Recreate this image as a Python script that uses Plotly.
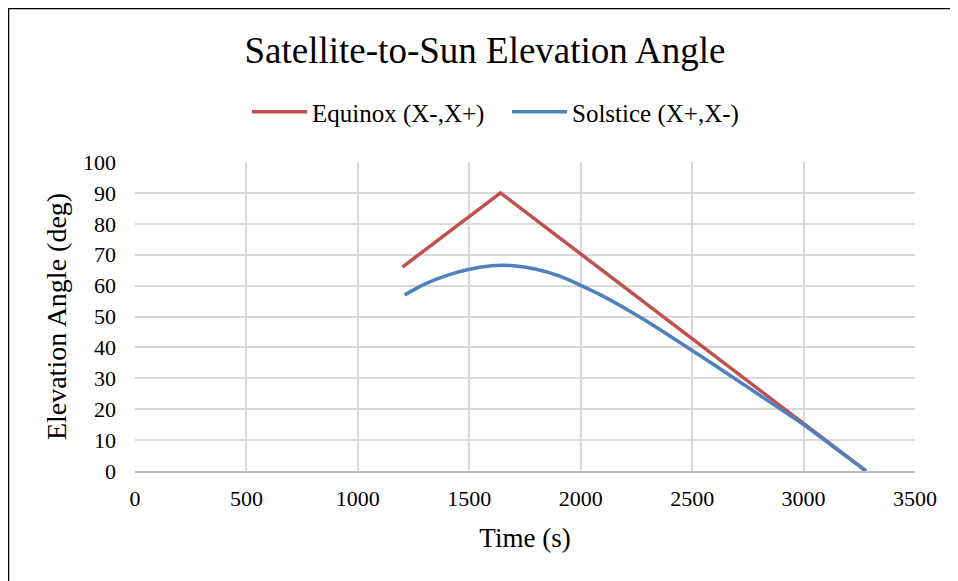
import plotly.graph_objects as go

eq_t = [1200, 1640, 3280]
eq_v = [66.0, 90.0, 0.0]

sol_t = [1210, 1300, 1400, 1500, 1600, 1650, 1700, 1800, 1900, 2000, 2100, 2200,
         2300, 2400, 2500, 2600, 2700, 2800, 2900, 3000, 3100, 3200, 3280]
sol_v = [57.0, 60.5, 63.3, 65.3, 66.4, 66.6, 66.4, 65.3, 63.2, 60.1, 56.6, 52.6,
         48.3, 43.7, 39.0, 34.3, 29.5, 24.7, 19.85, 15.0, 9.65, 4.3, 0.0]

x_ticks = [0, 500, 1000, 1500, 2000, 2500, 3000, 3500]
y_ticks = [0, 10, 20, 30, 40, 50, 60, 70, 80, 90, 100]

FONT = "Liberation Serif"
W, H = 958, 581
L, R, T, B = 127, 51, 154, 118

fig = go.Figure()
fig.add_trace(go.Scatter(x=eq_t, y=eq_v, mode="lines", name="Equinox (X-,X+)",
                         line=dict(color="#C0504D", width=3.5)))
fig.add_trace(go.Scatter(x=sol_t, y=sol_v, mode="lines", name="Solstice (X+,X-)",
                         line=dict(color="#4F81BD", width=3.5, shape="spline", smoothing=0.8)))

pw = W - L - R
ph = H - T - B
def px(xp):
    return (xp - L) / pw
def py(yp):
    return (H - B - yp) / ph

fig.update_layout(
    width=W, height=H,
    margin=dict(l=L, r=R, t=T, b=B),
    paper_bgcolor="white", plot_bgcolor="white",
    font=dict(family=FONT, color="black", size=22),
    title=dict(text="Satellite-to-Sun Elevation Angle", x=(485 - 8) / W, xanchor="center",
               xref="container", y=1 - 42 / H, yanchor="middle",
               font=dict(size=37, family=FONT)),
    legend=dict(orientation="h", x=px(492 - 8 + 15), xanchor="center", y=py(104), yanchor="middle",
                font=dict(size=25, family=FONT), traceorder="normal",
                itemwidth=55, entrywidth=190, entrywidthmode="pixels"),
    showlegend=True,
    xaxis=dict(range=[0, 3500], tickvals=x_ticks, showgrid=True, gridcolor="#d9d9d9",
               gridwidth=1.5, zeroline=False, showline=True, linecolor="#bfbfbf",
               linewidth=1.5, mirror=False, ticks="", ticklabelstandoff=7,
               title=dict(text="Time (s)", font=dict(size=27, family=FONT), standoff=18),
               tickfont=dict(size=22, family=FONT)),
    yaxis=dict(range=[0, 100], tickvals=y_ticks, showgrid=True, gridcolor="#d9d9d9",
               gridwidth=1.5, zeroline=False, showline=False, ticks="",
               ticklabelstandoff=18,
               title=dict(text="Elevation Angle (deg)", font=dict(size=28, family=FONT), standoff=8),
               tickfont=dict(size=22, family=FONT)),
    shapes=[
        dict(type="line", xref="paper", yref="paper", x0=px(0), x1=px(W + 5),
             y0=py(0), y1=py(0), line=dict(color="black", width=2.5)),
        dict(type="line", xref="paper", yref="paper", x0=px(0), x1=px(0),
             y0=py(0), y1=py(H + 5), line=dict(color="black", width=2.5)),
    ],
)

fig.write_html("out.html")
